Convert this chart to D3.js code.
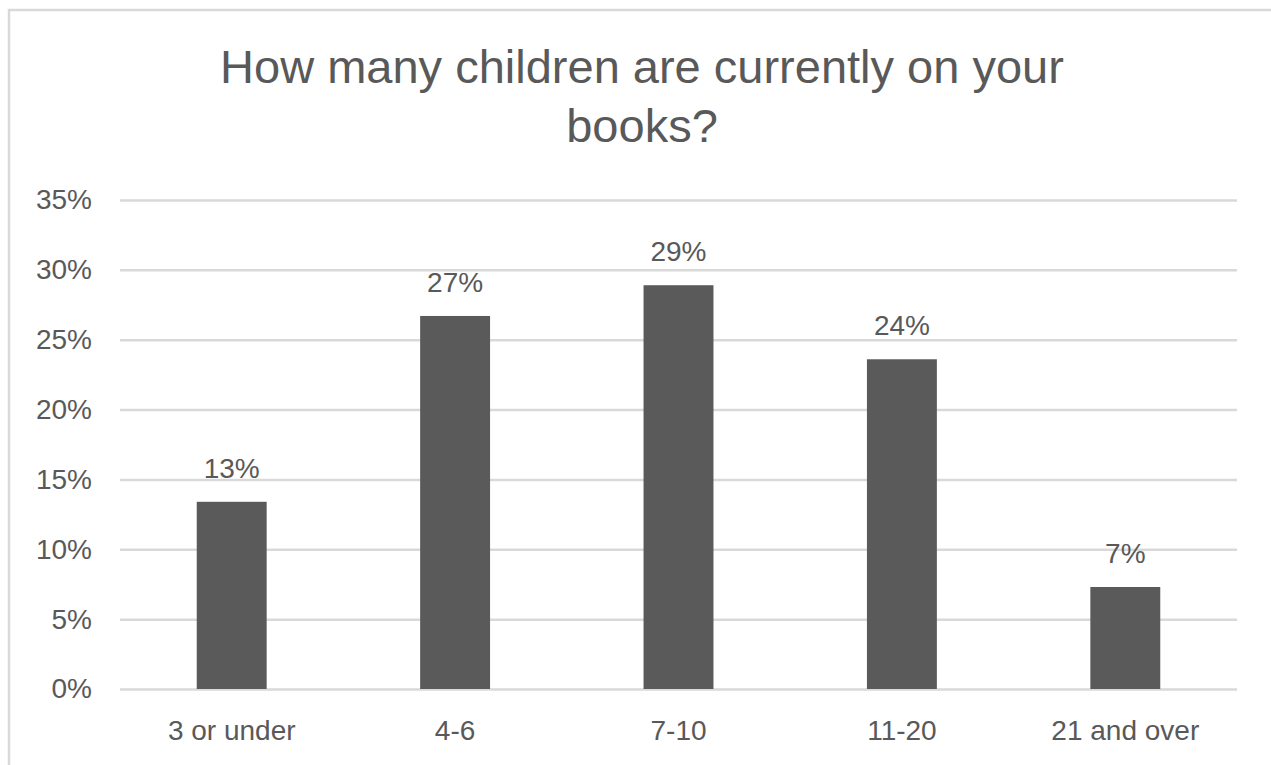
<!DOCTYPE html>
<html><head><meta charset="utf-8">
<script src="https://cdn.jsdelivr.net/npm/d3@7"></script>
<style>
html,body{margin:0;padding:0;background:#fff;}
svg{display:block;}
text{font-family:"Liberation Sans",Arial,sans-serif;fill:#595959;}
</style></head>
<body>
<svg id="chart" width="1271" height="765"></svg>
<script>
const categories = ["3 or under", "4-6", "7-10", "11-20", "21 and over"];
const values = [0.134, 0.267, 0.289, 0.236, 0.073];
const valueLabels = ["13%", "27%", "29%", "24%", "7%"];
const yTicks = [0, 0.05, 0.10, 0.15, 0.20, 0.25, 0.30, 0.35];
const titleLines = ["How many children are currently on your", "books?"];

(function () {
const svg = d3.select("#chart");
const W = 1271, H = 765;

// chart border
svg.append("rect").attr("x", 9).attr("y", 10).attr("width", W + 20).attr("height", H + 20)
  .attr("fill", "#fff").attr("stroke", "#d9d9d9").attr("stroke-width", 2.5);

const mLeft = 120, mRight = 1237, mTop = 200, mBottom = 689;
const x = d3.scaleBand().domain(categories).range([mLeft, mRight]).paddingInner(0.687).paddingOuter(0.3435);
const y = d3.scaleLinear().domain([0, 0.35]).range([mBottom, mTop]);

// title
svg.append("text").attr("text-anchor", "middle")
  .style("font-size", "47px")
  .selectAll("tspan").data(titleLines).join("tspan")
  .attr("x", 642).attr("y", (d, i) => 83 + i * 59).text(d => d);

// gridlines + y labels
const yAxis = d3.axisLeft(y).tickValues(yTicks).tickFormat(d3.format(".0%"))
  .tickSize(-(mRight - mLeft)).tickPadding(28);
const gy = svg.append("g").attr("transform", `translate(${mLeft},0)`).call(yAxis);
gy.select(".domain").remove();
gy.selectAll(".tick line").attr("stroke", "#d9d9d9").attr("stroke-width", 2.5);
gy.selectAll(".tick text").style("font-size", "28px").attr("fill", "#595959")
  .style("font-family", "'Liberation Sans', Arial, sans-serif");

// bars
svg.append("g").selectAll("rect").data(values).join("rect")
  .attr("x", (d, i) => x(categories[i]))
  .attr("width", x.bandwidth())
  .attr("y", d => y(d))
  .attr("height", d => y(0) - y(d))
  .attr("fill", "#5a5a5a");

// value labels
svg.append("g").selectAll("text").data(values).join("text")
  .attr("x", (d, i) => x(categories[i]) + x.bandwidth() / 2)
  .attr("y", d => y(d) - 24)
  .attr("text-anchor", "middle")
  .style("font-size", "28px")
  .text((d, i) => valueLabels[i]);

// x axis labels
const xAxis = d3.axisBottom(x).tickSize(0).tickPadding(31);
const gx = svg.append("g").attr("transform", `translate(0,${mBottom})`).call(xAxis);
gx.select(".domain").remove();
gx.selectAll(".tick text").style("font-size", "28px").attr("fill", "#595959")
  .style("font-family", "'Liberation Sans', Arial, sans-serif");
})();
</script>
</body></html>
